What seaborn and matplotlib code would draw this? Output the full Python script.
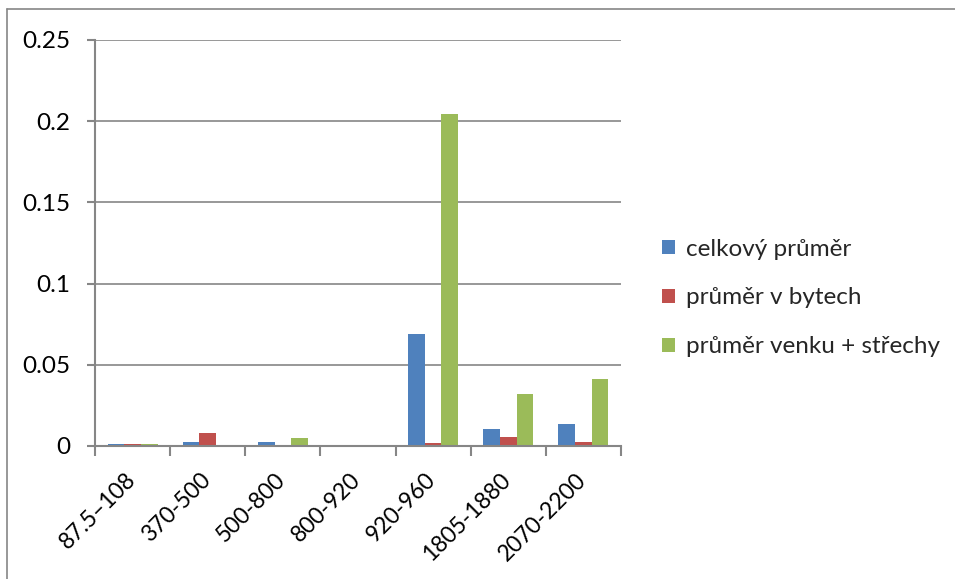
import matplotlib
matplotlib.use("Agg")
import matplotlib.pyplot as plt
from matplotlib.lines import Line2D
from matplotlib.ticker import FixedLocator, NullFormatter
import seaborn as sns
import pandas as pd

# Frequency bands (MHz) and measured averages
bands = ["87.5–108", "370-500", "500-800", "800-920", "920-960", "1805-1880", "2070-2200"]
celkovy = [0.0012, 0.0026, 0.0025, 0.0, 0.069, 0.0103, 0.0137]
v_bytech = [0.0012, 0.0078, 0.0, 0.0, 0.0018, 0.0054, 0.0026]
venku = [0.0012, 0.0, 0.0049, 0.0, 0.2045, 0.032, 0.0415]
series_names = ["celkový průměr", "průměr v bytech", "průměr venku + střechy"]
y_ticks = [0, 0.05, 0.1, 0.15, 0.2, 0.25]
y_tick_labels = ["0", "0.05", "0.1", "0.15", "0.2", "0.25"]

df = pd.DataFrame({
    "pásmo": bands * 3,
    "hodnota": celkovy + v_bytech + venku,
    "řada": [series_names[0]] * 7 + [series_names[1]] * 7 + [series_names[2]] * 7,
})

sns.set_theme(style="white")
plt.rcParams["font.family"] = ["Lato", "DejaVu Sans"]

palette = ["#4F81BD", "#C0504D", "#9BBB59"]
grid_col = "#868686"
fs = 17.5

fig = plt.figure(figsize=(9.55, 5.79), dpi=100)
ax = fig.add_axes([95 / 955, 1 - 446 / 579, (621 - 95) / 955, (446 - 40) / 579])

sns.barplot(data=df, x="pásmo", y="hodnota", hue="řada", palette=palette,
            width=0.667, gap=0, saturation=1, ax=ax, legend=True, edgecolor="none")

ax.set_xlim(-0.5, len(bands) - 0.5)
ax.set_ylim(0, 0.25)
ax.set_yticks(y_ticks)
ax.set_yticklabels(y_tick_labels, fontsize=fs, color="black")
ax.yaxis.grid(True, color=grid_col, linewidth=1.2)
ax.set_axisbelow(True)
ax.set_xlabel("")
ax.set_ylabel("")

for side in ["top", "right"]:
    ax.spines[side].set_visible(False)
for side in ["left", "bottom"]:
    ax.spines[side].set_color(grid_col)
    ax.spines[side].set_linewidth(1.5)

ax.tick_params(axis="y", direction="out", length=6, width=1.5, color=grid_col, left=True, pad=12)
# category labels at centres, tick marks on the boundaries
ax.tick_params(axis="x", which="major", length=0, pad=0)
ax.xaxis.set_minor_locator(FixedLocator([i - 0.5 for i in range(len(bands) + 1)]))
ax.xaxis.set_minor_formatter(NullFormatter())
ax.tick_params(axis="x", which="minor", direction="out", length=7, width=1.5,
               color=grid_col, bottom=True)
ax.set_xticks(range(len(bands)))
ax.set_xticklabels(bands, rotation=45, ha="right", va="top",
                   rotation_mode="anchor", fontsize=16.5, color="black")
shift = matplotlib.transforms.ScaledTranslation(-0.08, -0.23, fig.dpi_scale_trans)
for lbl in ax.get_xticklabels():
    lbl.set_transform(lbl.get_transform() + shift)

handles, labels = ax.get_legend_handles_labels()
ax.legend(handles, labels, loc="center left", bbox_to_anchor=(652 / 955, 1 - 298 / 579),
          bbox_transform=fig.transFigure, frameon=False, fontsize=fs,
          handlelength=0.55, handleheight=0.55, handletextpad=0.45, labelspacing=1.15,
          borderaxespad=0)

# chart frame
fig.add_artist(Line2D([7 / 955, 7 / 955], [0, 1 - 9 / 579], transform=fig.transFigure,
                      color=grid_col, linewidth=1.2))
fig.add_artist(Line2D([7 / 955, 1], [1 - 9 / 579, 1 - 9 / 579], transform=fig.transFigure,
                      color=grid_col, linewidth=1.2))

fig.savefig("out.png", dpi=100)
